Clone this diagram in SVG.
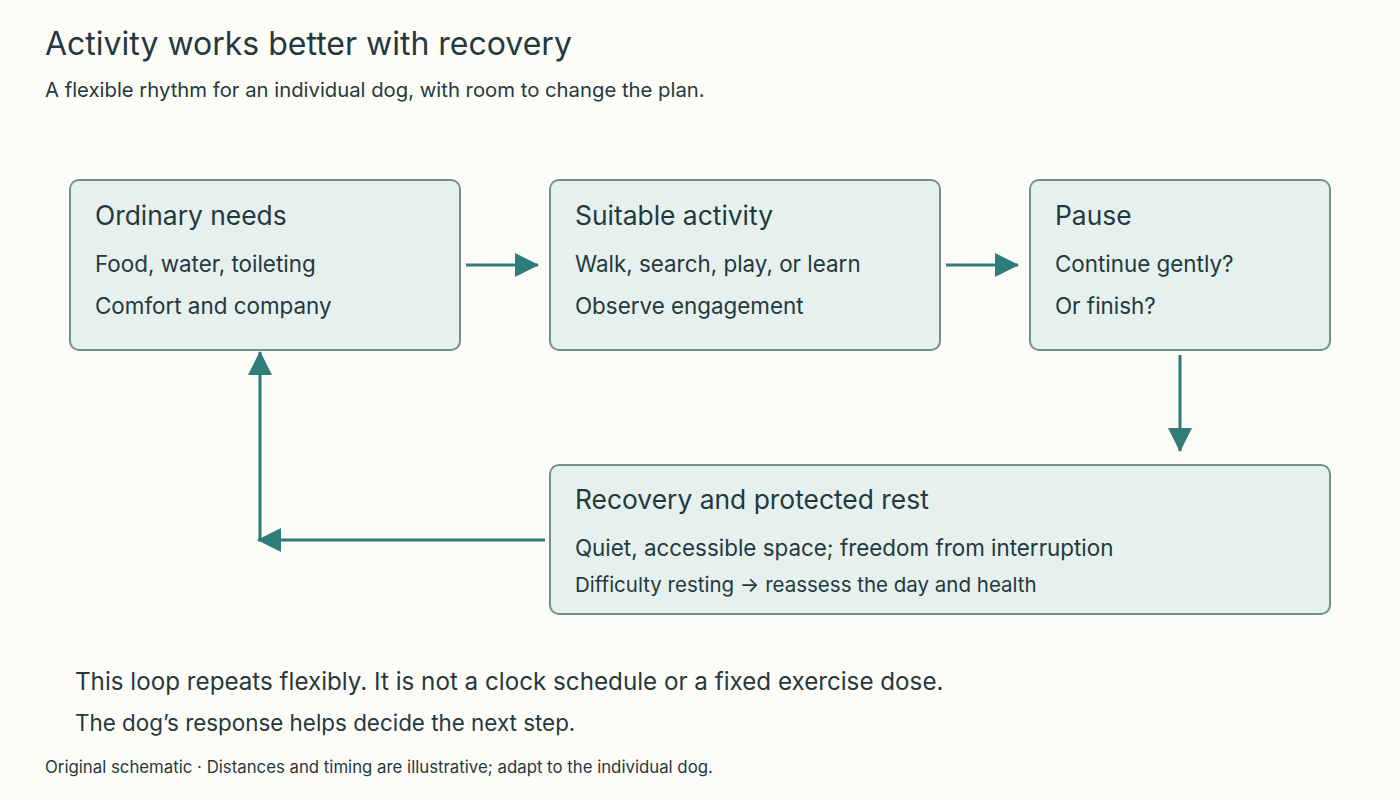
<svg xmlns="http://www.w3.org/2000/svg" width="1400" height="800" viewBox="0 0 1400 800">
<style>
text{font-family:Inter,"Liberation Sans",Arial,sans-serif;fill:#24393f}
.box{fill:#e6f0ec;stroke:#6e9288;stroke-width:2}
.h{font-size:26.4px}.t{font-size:22.4px}.s{font-size:20.5px}
.c{stroke:#2f7d78;stroke-width:3;fill:none}
</style>
<defs>
<marker id="b" viewBox="0 0 24 24" refX="23" refY="12" markerWidth="24" markerHeight="24" markerUnits="userSpaceOnUse" orient="auto"><path d="M0,0L24,12L0,24z" fill="#2f7d78"/></marker></defs>
<rect width="1400" height="800" fill="#fefcf7"/>
<text x="45" y="55" style="font-size:32px">Activity works better with recovery</text>
<text x="45" y="97" style="font-size:20.3px">A flexible rhythm for an individual dog, with room to change the plan.</text>
<g id="connectors">
<path class="c" d="M466,265H538" marker-end="url(#b)"/>
<path class="c" d="M946,265H1018" marker-end="url(#b)"/>
<path class="c" d="M1180,355V451" marker-end="url(#b)"/>
<path class="c" d="M545,540H262"/>
<path class="c" d="M280,540H258" marker-end="url(#b)"/>
<path class="c" d="M260,540V352" marker-end="url(#b)"/>
</g>
<g id="ordinary"><rect class="box" x="70" y="180" width="390" height="170" rx="9"/>
<text class="h" x="95" y="225">Ordinary needs</text><text class="t" x="95" y="272">Food, water, toileting</text><text class="t" x="95" y="314">Comfort and company</text></g>
<g id="activity"><rect class="box" x="550" y="180" width="390" height="170" rx="9"/>
<text class="h" x="575" y="225">Suitable activity</text><text class="t" x="575" y="272">Walk, search, play, or learn</text><text class="t" x="575" y="314">Observe engagement</text></g>
<g id="pause"><rect class="box" x="1030" y="180" width="300" height="170" rx="9"/>
<text class="h" x="1055" y="225">Pause</text><text class="t" x="1055" y="272">Continue gently?</text><text class="t" x="1055" y="314">Or finish?</text></g>
<g id="recovery"><rect class="box" x="550" y="465" width="780" height="149" rx="9"/>
<text class="h" x="575" y="509">Recovery and protected rest</text><text class="t" x="575" y="556">Quiet, accessible space; freedom from interruption</text><text class="s" x="575" y="592">Difficulty resting → reassess the day and health</text></g>
<text x="75" y="690" style="font-size:24.2px">This loop repeats flexibly. It is not a clock schedule or a fixed exercise dose.</text>
<text x="75" y="731" style="font-size:22.4px">The dog’s response helps decide the next step.</text>
<text x="45" y="773" style="font-size:16.8px">Original schematic · Distances and timing are illustrative; adapt to the individual dog.</text>
</svg>
